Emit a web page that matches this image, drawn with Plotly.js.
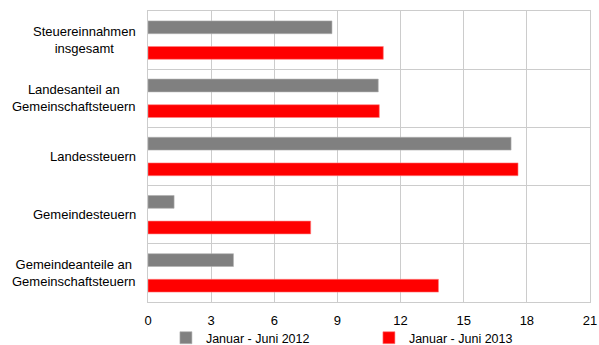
<!DOCTYPE html>
<html>
<head>
<meta charset="utf-8">
<script src="https://cdn.plot.ly/plotly-3.0.1.min.js"></script>
<style>html,body{margin:0;padding:0;background:#fff;}#chart{width:599px;height:345px;}</style>
</head>
<body>
<div id="chart"></div>
<script>
var categories = [
  "Steuereinnahmen<br>insgesamt",
  "Landesanteil an<br>Gemeinschaftsteuern",
  "Landessteuern",
  "Gemeindesteuern",
  "Gemeindeanteile an<br>Gemeinschaftsteuern"
];
var seriesNames = ["Januar - Juni 2012", "Januar - Juni 2013"];
var values2012 = [8.74, 10.94, 17.25, 1.24, 4.06];
var values2013 = [11.18, 10.99, 17.58, 7.73, 13.8];
var xTicks = [0, 3, 6, 9, 12, 15, 18, 21];

var font = "Liberation Sans, Arial, sans-serif";

var traces = [
  {type: "bar", orientation: "h", name: seriesNames[0], y: categories, x: values2012,
   marker: {color: "#808080", line: {color: "#b0b0b0", width: 0.6}}, hoverinfo: "x"},
  {type: "bar", orientation: "h", name: seriesNames[1], y: categories, x: values2013,
   marker: {color: "#ff0000", line: {color: "#ff8080", width: 0.6}}, hoverinfo: "x"}
];

var annotations = categories.map(function (c) {
  return {xref: "paper", yref: "y", x: 0, y: c, xanchor: "right", xshift: -10,
          text: c, align: "center", showarrow: false,
          font: {family: font, size: 13, color: "#000"}};
});

var layout = {
  width: 599, height: 345,
  margin: {l: 148, r: 9, t: 11, b: 43},
  paper_bgcolor: "#fff", plot_bgcolor: "#fff",
  barmode: "group", bargap: 0.12, bargroupgap: 0.5,
  font: {family: font, size: 12, color: "#000"},
  showlegend: true,
  legend: {orientation: "h", xref: "container", yref: "container",
           x: 0.277, xanchor: "left", y: 0.02, yanchor: "middle",
           font: {family: font, size: 12.5, color: "#000"},
           entrywidth: 158, entrywidthmode: "pixels", itemwidth: 30, traceorder: "normal",
           bgcolor: "rgba(0,0,0,0)"},
  xaxis: {range: [0, 21], tickvals: xTicks, ticktext: xTicks.map(String),
          showgrid: true, gridcolor: "#cccccc", gridwidth: 1,
          showline: true, linecolor: "#cccccc", linewidth: 1, mirror: true,
          zeroline: false, ticks: "", ticklen: 0, ticklabelstandoff: 6,
          tickfont: {size: 13}, automargin: false},
  yaxis: {type: "category", autorange: "reversed", tickson: "boundaries",
          showgrid: true, gridcolor: "#cccccc", gridwidth: 1,
          showline: true, linecolor: "#cccccc", linewidth: 1, mirror: true,
          showticklabels: false, ticks: "", zeroline: false, automargin: false},
  annotations: annotations
};

Plotly.newPlot("chart", traces, layout, {displayModeBar: false, staticPlot: true});
</script>
</body>
</html>
